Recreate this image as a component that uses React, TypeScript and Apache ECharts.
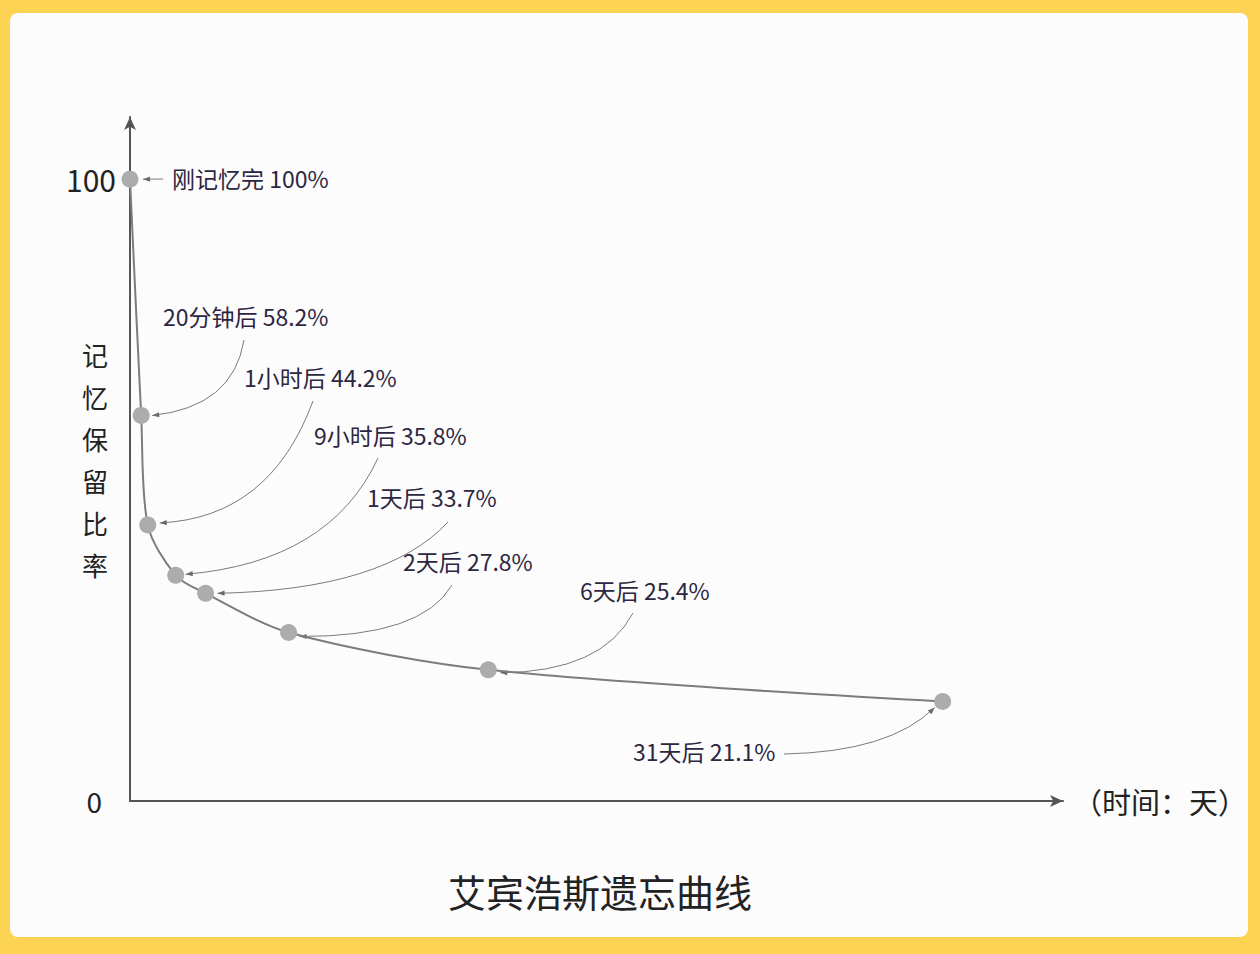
import React, { useEffect, useRef } from "react";
import * as echarts from "echarts";

// ---- data ----
const categories = ["刚记忆完", "20分钟后", "1小时后", "9小时后", "1天后", "2天后", "6天后", "31天后"];
const retentionLabels = [100, 58.2, 44.2, 35.8, 33.7, 27.8, 25.4, 21.1];
// positions (x: relative position 0–100 along the time axis, y: on the 0–100 axis)
const xPos = [0, 1.2, 1.9, 4.9, 8.1, 17.0, 38.4, 87.1];
const yPos = [100, 62.0, 44.4, 36.3, 33.4, 27.1, 21.1, 16.0];
const yTicks = [0, 100];
const yAxisName = "记忆保留比率";
const xAxisName = "（时间：天）";
const chartTitle = "艾宾浩斯遗忘曲线";

// ---- layout of annotations (pixels) ----
const labelPos: [number, number][] = [
  [172, 178], [163, 316], [244, 377], [314, 435], [367, 497], [403, 561], [580, 590], [633, 751],
];
const arrowStart: [number, number][] = [
  [163, 179], [244, 340], [313, 401], [378, 458], [448, 522], [452, 585], [633, 613], [784, 754],
];
const arrowCtrl: ([number, number] | null)[] = [
  null, [233, 407], [270, 518], [330, 562], [385, 590], [422, 637], [602, 672], [890, 752],
];
const tipOffset: [number, number][] = [
  [13, 0], [11, 0], [12, -2], [10, -1], [12, 0], [11, 4], [12, 3], [-8, 6],
];

const FONT = '"Noto Sans CJK SC", "Noto Sans", sans-serif';
const TEXT = "#2d2640";

export default function App() {
  const ref = useRef<HTMLDivElement>(null);
  useEffect(() => {
    if (!ref.current) return;
    const chart = echarts.init(ref.current, null, { renderer: "svg" });
    chart.setOption({
      animation: false,
      title: {
        text: chartTitle,
        left: 443,
        top: 866,
        textStyle: { fontSize: 38, fontWeight: "normal", color: "#222", fontFamily: FONT },
      },
      grid: { left: 130, right: 197, top: 117, bottom: 153 },
      xAxis: {
        type: "value",
        min: 0,
        max: 100,
        splitLine: { show: false },
        axisTick: { show: false },
        axisLabel: { show: false },
        axisLine: {
          show: true,
          lineStyle: { color: "#555", width: 2 },
          symbol: ["none", "arrow"],
          symbolSize: [9, 13],
        },
        name: xAxisName,
        nameLocation: "end",
        nameGap: 10,
        nameTextStyle: { fontSize: 29, color: "#222", fontFamily: FONT },
      },
      yAxis: {
        type: "value",
        min: 0,
        max: 110,
        interval: 100,
        splitLine: { show: false },
        axisTick: { show: false },
        axisLine: {
          show: true,
          lineStyle: { color: "#555", width: 2 },
          symbol: ["none", "arrow"],
          symbolSize: [9, 13],
        },
        axisLabel: {
          margin: 14,
          formatter: (v: number) =>
            yTicks.includes(v) ? (v === 0 ? `{z|${v}}` : `{a|${v}}`) : "",
          rich: {
            a: { fontSize: 30, color: "#222", fontFamily: FONT },
            z: { fontSize: 28, color: "#222", fontFamily: FONT, padding: [0, 14, 0, 0] },
          },
        },
        name: yAxisName.split("").join("\n"),
        nameLocation: "middle",
        nameRotate: 0,
        nameGap: 35,
        nameMoveOverlap: false,
        nameTextStyle: {
          fontSize: 26,
          lineHeight: 42,
          color: "#222",
          fontFamily: FONT,
          align: "center",
        },
      },
      series: [
        {
          type: "line",
          data: xPos.map((x, i) => [x, yPos[i]]),
          smooth: 0.3,
          symbol: "circle",
          symbolSize: 17,
          itemStyle: { color: "#acacac" },
          lineStyle: { color: "#7c7c7c", width: 2 },
          z: 3,
        },
      ],
    });

    const pts = xPos.map((x, i) => chart.convertToPixel({ gridIndex: 0 }, [x, yPos[i]]) as number[]);
    const graphics: any[] = [];
    categories.forEach((c, i) => {
      graphics.push({
        type: "text",
        style: {
          text: `${c} ${retentionLabels[i]}%`,
          x: labelPos[i][0],
          y: labelPos[i][1],
          fill: TEXT,
          fontSize: 23,
          fontFamily: FONT,
          align: "left",
          verticalAlign: "middle",
        },
      });
      const tip = [pts[i][0] + tipOffset[i][0], pts[i][1] + tipOffset[i][1]];
      const s = arrowStart[i];
      const cp = arrowCtrl[i] || [(s[0] + tip[0]) / 2, (s[1] + tip[1]) / 2];
      graphics.push({
        type: "bezierCurve",
        shape: { x1: s[0], y1: s[1], x2: tip[0], y2: tip[1], cpx1: cp[0], cpy1: cp[1] },
        style: { stroke: "#7a7a7a", lineWidth: 1, fill: null },
      });
      let dx = tip[0] - cp[0];
      let dy = tip[1] - cp[1];
      const len = Math.hypot(dx, dy) || 1;
      dx /= len;
      dy /= len;
      const nx = -dy, ny = dx;
      const L = 7, W = 2.6;
      graphics.push({
        type: "polygon",
        shape: {
          points: [
            [tip[0], tip[1]],
            [tip[0] - dx * L + nx * W, tip[1] - dy * L + ny * W],
            [tip[0] - dx * L - nx * W, tip[1] - dy * L - ny * W],
          ],
        },
        style: { fill: "#6a6a6a" },
      });
    });
    chart.setOption({ graphic: graphics });
    return () => chart.dispose();
  }, []);

  return (
    <div style={{ position: "fixed", left: 0, top: 0, width: 1260, height: 954, background: "#FCD352" }}>
      <div
        style={{
          position: "absolute",
          left: 10,
          top: 13,
          width: 1238,
          height: 924,
          background: "#fcfcfd",
          borderRadius: 8,
        }}
      />
      <div ref={ref} style={{ position: "absolute", left: 0, top: 0, width: 1260, height: 954 }} />
    </div>
  );
}
